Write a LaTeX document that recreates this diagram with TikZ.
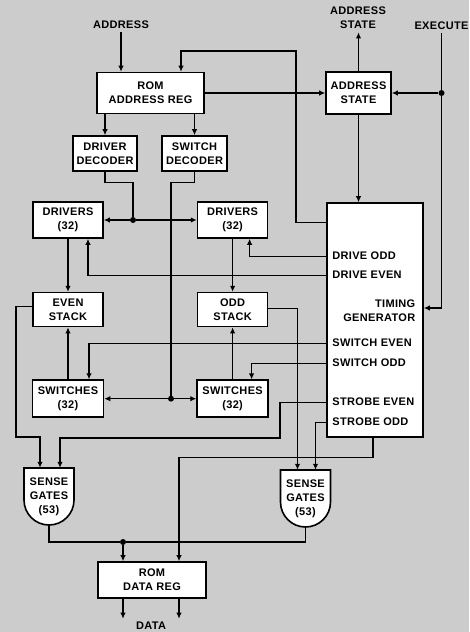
\documentclass[tikz,border=0pt]{standalone}
\usepackage{fontspec}
\newfontfamily\diagfont[LetterSpace=3]{Liberation Sans}
\usetikzlibrary{arrows.meta,positioning}

% shield shaped sense gate: name, centre
\newcommand{\sensegate}[2]{%
  \draw[gate, shift={(#2)}] (-25,28.5) -- (-25,-3.5)
    arc[start angle=180, end angle=360, x radius=25pt, y radius=25pt] -- (25,28.5) -- cycle;
  \node[gatetext] (#1) at (#2) {SENSE\\GATES\\(53)};}

\begin{document}
\begin{tikzpicture}[
    x=1pt, y=1pt,
    font={\diagfont\bfseries\fontsize{11}{14}\selectfont},
    box/.style={draw, line width=1.6pt, fill=white, align=center, inner sep=0pt},
    gate/.style={draw, line width=1.6pt, fill=white},
    gatetext/.style={align=center, inner sep=0pt, minimum width=50pt, minimum height=57pt},
    lbl/.style={inner sep=0pt, anchor=west},
    dot/.style={circle, fill, inner sep=0pt, minimum size=6pt},
    arrow/.style={-{Latex[length=6pt,width=5.5pt]}, line width=1.25pt},
    wire/.style={line width=1.25pt}
  ]
    \fill[black!20] (0,0) rectangle (469,-632);
    \useasboundingbox (0,0) rectangle (469,-632);

    \node (addr) at (121,-25) {ADDRESS};
    \node[box, minimum width=107pt, minimum height=41pt] (romA) at (150.5,-93) {ROM\\ADDRESS REG};
    \node[box, minimum width=65pt, minimum height=42pt] (asst) at (358.5,-93) {ADDRESS\\STATE};
    \node[align=center] (aslbl) at (358,-18) {ADDRESS\\STATE};
    \node (exlbl) at (441.5,-26) {EXECUTE};
    \node[dot] (exdot) at (exlbl.south |- asst.east) {};

    \node[box, minimum width=64pt, minimum height=35pt] (drvD) at (105,-153.5) {DRIVER\\DECODER};
    \node[box, minimum width=65pt, minimum height=35pt] (swD) at (194.5,-153.5) {SWITCH\\DECODER};

    \node[box, minimum width=70pt, minimum height=36pt] (drvL) at (68,-220) {DRIVERS\\(32)};
    \node[box, minimum width=70pt, minimum height=36pt, right=93pt of drvL] (drvR) {DRIVERS\\(32)};
    \node[box, minimum width=70pt, minimum height=34pt, below=53pt of drvL] (evS) {EVEN\\STACK};
    \node[box, minimum width=70pt, minimum height=34pt, below=53pt of drvR] (odS) {ODD\\STACK};
    \node[box, minimum width=71pt, minimum height=37pt, below=52pt of evS] (swL) {SWITCHES\\(32)};
    \node[box, minimum width=71pt, minimum height=37pt, below=52pt of odS] (swR) {SWITCHES\\(32)};
    \coordinate (ddx) at (133,0);
    \coordinate (sdx) at (171,0);
    \node[dot] (ddot) at (drvL.east -| ddx) {};
    \node[dot] (sdot) at (swL.east -| sdx) {};

    \node[box, minimum width=96pt, minimum height=234pt] (tg) at (375,-320) {};
    \node[align=right, anchor=east] (tgname) at ([xshift=-5pt, yshift=9.5pt]tg.east) {TIMING\\GENERATOR};
    \node[lbl] (dro) at ([xshift=6pt, yshift=-54pt]tg.north west) {DRIVE ODD};
    \node[lbl] (dre) at ([xshift=6pt, yshift=-73pt]tg.north west) {DRIVE EVEN};
    \node[lbl] (swe) at ([xshift=6pt, yshift=-141pt]tg.north west) {SWITCH EVEN};
    \node[lbl] (swo) at ([xshift=6pt, yshift=-161pt]tg.north west) {SWITCH ODD};
    \node[lbl] (ste) at ([xshift=6pt, yshift=-200pt]tg.north west) {STROBE EVEN};
    \node[lbl] (sto) at ([xshift=6pt, yshift=-220pt]tg.north west) {STROBE ODD};

    \sensegate{sgL}{49,-496.5}
    \sensegate{sgR}{305.5,-498.5}

    \node[box, minimum width=108pt, minimum height=36pt] (romD) at (152,-580) {ROM\\DATA REG};
    \node (datlbl) at (151,-626) {DATA};
    \node[dot] (datdot) at (123,-542) {};

    \draw[arrow] (addr) -- (addr |- romA.north);
    \draw[arrow] ([yshift=-20pt]tg.north west) -| (296,-51) -| ([xshift=30.5pt]romA.north);
    \draw[arrow] (romA) -- (asst);
    \draw[arrow] (asst.north) -- (asst.north |- aslbl.south);
    \draw[arrow] (exlbl) |- ([yshift=12pt]tg.east);
    \draw[arrow] (exdot) -- (asst);
    \draw[arrow] (asst) -- (asst |- tg.north);
    \draw[arrow] (drvD |- romA.south) -- (drvD);
    \draw[arrow] (swD |- romA.south) -- (swD);
    \draw[wire] (drvD.south) -- ++(0,-11) -| (ddot);
    \draw[arrow] (ddot) -- (drvL);
    \draw[arrow] (ddot) -- (drvR);
    \draw[wire] (swD.south) -- ++(0,-11) -| (sdot);
    \draw[arrow] (sdot) -- (swL);
    \draw[arrow] (sdot) -- (swR);
    \draw[arrow] (drvL) -- (evS);
    \draw[arrow] (drvR) -- (odS);
    \draw[arrow] (swL) -- (evS);
    \draw[arrow] (swR) -- (odS);
    \draw[arrow] (tg.west |- dro) -| ([xshift=17pt]drvR.south);
    \draw[arrow] (tg.west |- dre) -| ([xshift=20pt]drvL.south);
    \draw[arrow] (tg.west |- swe) -| ([xshift=21pt]swL.north);
    \draw[arrow] (tg.west |- swo) -| ([xshift=19pt]swR.north);
    \draw[arrow] (tg.west |- ste) -| (280,-438) -| ([xshift=11pt]sgL.north);
    \draw[arrow] (tg.west |- sto) -| ([xshift=10pt]sgR.north);
    \draw[arrow] ([yshift=3pt]evS.west) -| (16,-437) -| ([xshift=-9pt]sgL.north);
    \draw[arrow] ([yshift=1pt]odS.east) -| ([xshift=-8pt]sgR.north);
    \draw[arrow] ([xshift=-2pt]tg.south) -- ++(0,-20) -| ([xshift=27pt]romD.north);
    \draw[wire] (sgL.south) |- (datdot);
    \draw[wire] (sgR.south) |- (datdot);
    \draw[arrow] (datdot) -- (datdot |- romD.north);
    \draw[arrow] ([xshift=-29pt]romD.south) -- ([xshift=-29pt]romD.south |- datlbl.north);
    \draw[arrow] ([xshift=27pt]romD.south) -- ([xshift=27pt]romD.south |- datlbl.north);
  \end{tikzpicture}
\end{document}
